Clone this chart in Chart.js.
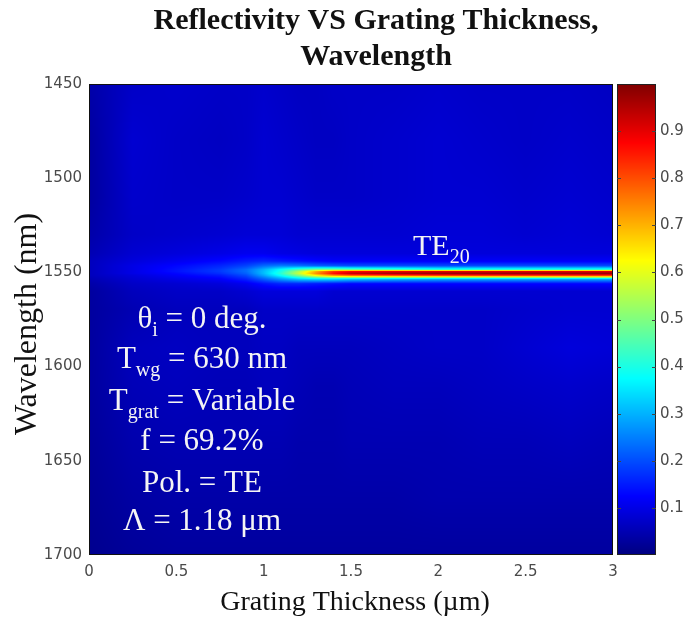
<!DOCTYPE html>
<html>
<head>
<meta charset="utf-8">
<script src="https://cdn.jsdelivr.net/npm/chart.js@4/dist/chart.umd.min.js"></script>
<style>
html,body{margin:0;padding:0;background:#fff;}
canvas{display:block;}
</style>
</head>
<body>
<canvas id="c" width="686" height="623"></canvas>
<script>
// ---- data ----
const thickness = [0, 0.25, 0.5, 0.75, 0.9, 1.0, 1.1, 1.2, 1.3, 1.4, 1.5, 1.75, 2.0, 2.25, 2.5, 2.75, 3.0]; // µm
const wavelength = [1450, 1480, 1510, 1530, 1540, 1544, 1546.5, 1548.5, 1549.5, 1550.5, 1551.5, 1553.5, 1556, 1560, 1570, 1590, 1610, 1640, 1670, 1700]; // nm
// reflectivity[row = wavelength][col = thickness]
const reflectivity = [
  [0.04,0.07,0.075,0.07,0.07,0.075,0.07,0.065,0.065,0.07,0.07,0.07,0.075,0.07,0.07,0.07,0.065],
  [0.03,0.08,0.07,0.065,0.07,0.08,0.075,0.07,0.065,0.065,0.07,0.075,0.08,0.075,0.07,0.075,0.07],
  [0.03,0.075,0.07,0.07,0.075,0.08,0.08,0.075,0.07,0.07,0.07,0.075,0.08,0.08,0.075,0.08,0.075],
  [0.04,0.07,0.075,0.08,0.085,0.085,0.085,0.08,0.08,0.08,0.08,0.08,0.085,0.085,0.08,0.085,0.08],
  [0.05,0.08,0.09,0.10,0.11,0.11,0.10,0.095,0.09,0.09,0.09,0.09,0.09,0.09,0.09,0.09,0.09],
  [0.06,0.09,0.11,0.13,0.15,0.16,0.15,0.14,0.13,0.12,0.12,0.12,0.12,0.12,0.12,0.12,0.12],
  [0.06,0.10,0.13,0.16,0.19,0.23,0.25,0.24,0.22,0.21,0.20,0.20,0.20,0.20,0.20,0.20,0.20],
  [0.06,0.10,0.14,0.18,0.23,0.30,0.38,0.45,0.50,0.50,0.48,0.45,0.42,0.42,0.42,0.42,0.42],
  [0.06,0.10,0.14,0.18,0.23,0.31,0.40,0.54,0.70,0.82,0.87,0.89,0.90,0.90,0.90,0.90,0.90],
  [0.06,0.10,0.13,0.17,0.22,0.31,0.42,0.57,0.74,0.87,0.94,0.97,0.98,0.98,0.98,0.98,0.98],
  [0.06,0.09,0.12,0.15,0.20,0.29,0.39,0.51,0.65,0.75,0.80,0.83,0.85,0.86,0.86,0.86,0.86],
  [0.05,0.08,0.10,0.12,0.16,0.22,0.28,0.33,0.35,0.35,0.33,0.31,0.30,0.30,0.30,0.30,0.30],
  [0.04,0.07,0.08,0.09,0.11,0.14,0.16,0.16,0.15,0.14,0.13,0.13,0.13,0.13,0.13,0.13,0.13],
  [0.03,0.06,0.07,0.07,0.08,0.09,0.09,0.09,0.09,0.08,0.08,0.08,0.08,0.08,0.08,0.08,0.08],
  [0.03,0.05,0.06,0.06,0.06,0.07,0.07,0.07,0.07,0.07,0.07,0.07,0.07,0.07,0.075,0.08,0.08],
  [0.03,0.06,0.065,0.06,0.06,0.065,0.065,0.06,0.06,0.06,0.06,0.065,0.07,0.07,0.08,0.09,0.085],
  [0.03,0.055,0.06,0.055,0.055,0.06,0.06,0.055,0.05,0.05,0.055,0.06,0.06,0.065,0.07,0.075,0.07],
  [0.025,0.045,0.05,0.05,0.05,0.05,0.05,0.045,0.045,0.045,0.05,0.05,0.05,0.055,0.055,0.06,0.055],
  [0.02,0.035,0.04,0.04,0.04,0.04,0.04,0.04,0.04,0.04,0.04,0.04,0.045,0.045,0.045,0.045,0.045],
  [0.015,0.025,0.03,0.03,0.03,0.03,0.03,0.03,0.03,0.03,0.03,0.03,0.03,0.03,0.03,0.03,0.03]
];
const thicknessTicks = [0, 0.5, 1, 1.5, 2, 2.5, 3];
const wavelengthTicks = [1450, 1500, 1550, 1600, 1650, 1700];
const colorbarTicks = [0.1, 0.2, 0.3, 0.4, 0.5, 0.6, 0.7, 0.8, 0.9];

const titleLines = ['Reflectivity VS Grating Thickness,', 'Wavelength'];
const xTitle = 'Grating Thickness (\u00b5m)';
const yTitle = 'Wavelength (nm)';
const modeLabel = [{t:'TE'},{t:'20',sub:true}];
const paramLines = [
  [{t:'\u03b8'},{t:'i',sub:true},{t:' = 0 deg.'}],
  [{t:'T'},{t:'wg',sub:true},{t:' = 630 nm'}],
  [{t:'T'},{t:'grat',sub:true},{t:' = Variable'}],
  [{t:'f = 69.2%'}],
  [{t:'Pol. = TE'}],
  [{t:'\u039b = 1.18 \u03bcm'}]
];

// ---- helpers ----
function jet(v){
  const c = x => Math.max(0, Math.min(1, x));
  return [c(1.5-Math.abs(4*v-3)), c(1.5-Math.abs(4*v-2)), c(1.5-Math.abs(4*v-1))].map(x=>Math.round(255*x));
}
function locate(arr, v){
  if (v <= arr[0]) return [0, 0];
  const n = arr.length;
  if (v >= arr[n-1]) return [n-2, 1];
  for (let i=0;i<n-1;i++){
    if (v>=arr[i] && v<=arr[i+1]) return [i, (v-arr[i])/(arr[i+1]-arr[i])];
  }
  return [n-2,1];
}
function sample(x, y){
  const [i, fx] = locate(thickness, x);
  const [j, fy] = locate(wavelength, y);
  const a = reflectivity[j][i], b = reflectivity[j][i+1];
  const c = reflectivity[j+1][i], d = reflectivity[j+1][i+1];
  return (a*(1-fx)+b*fx)*(1-fy) + (c*(1-fx)+d*fx)*fy;
}
const SERIF = '"Liberation Serif", "Times New Roman", serif';
function drawRich(ctx, parts, cx, baseline, size, color, align){
  const subSize = Math.round(size*0.66);
  let w = 0;
  parts.forEach(p=>{ ctx.font = (p.sub?subSize:size)+'px '+SERIF; w += ctx.measureText(p.t).width; });
  let x = align==='left' ? cx : cx - w/2;
  ctx.fillStyle = color;
  ctx.textAlign = 'left';
  ctx.textBaseline = 'alphabetic';
  parts.forEach(p=>{
    ctx.font = (p.sub?subSize:size)+'px '+SERIF;
    ctx.fillText(p.t, x, baseline + (p.sub ? size*0.25 : 0));
    x += ctx.measureText(p.t).width;
  });
}

const heatmapPlugin = {
  id: 'heatmap',
  beforeDatasetsDraw(chart){
    const ctx = chart.ctx, a = chart.chartArea;
    const xs = chart.scales.x, ys = chart.scales.y, cs = chart.scales.cb;
    const L = Math.round(a.left), T = Math.round(a.top), R = Math.round(a.right), B = Math.round(a.bottom);
    const W = R-L, H = B-T;
    const img = ctx.createImageData(W, H);
    for (let py=0; py<H; py++){
      const yv = ys.getValueForPixel(T+py+0.5);
      for (let px=0; px<W; px++){
        const xv = xs.getValueForPixel(L+px+0.5);
        const col = jet(sample(xv, yv));
        const k = (py*W+px)*4;
        img.data[k]=col[0]; img.data[k+1]=col[1]; img.data[k+2]=col[2]; img.data[k+3]=255;
      }
    }
    ctx.putImageData(img, L, T);
    ctx.save();
    ctx.strokeStyle = '#111';
    ctx.lineWidth = 1;
    ctx.strokeRect(L+0.5, T+0.5, W-1, H-1);
    // colorbar
    const cl = Math.round(cs.left)+4, cr = cl+39;
    const ct = Math.round(cs.getPixelForValue(1)), cb = Math.round(cs.getPixelForValue(0));
    for (let py=ct; py<cb; py++){
      const c = jet(cs.getValueForPixel(py+0.5));
      ctx.fillStyle = 'rgb('+c.join(',')+')';
      ctx.fillRect(cl, py, cr-cl, 1);
    }
    ctx.strokeStyle = '#222';
    ctx.strokeRect(cl+0.5, ct+0.5, cr-cl-1, cb-ct-1);
    ctx.strokeStyle = '#444';
    colorbarTicks.forEach(v=>{
      const y = Math.round(cs.getPixelForValue(v))+0.5;
      ctx.beginPath();
      ctx.moveTo(cl, y); ctx.lineTo(cl+4, y);
      ctx.moveTo(cr-4, y); ctx.lineTo(cr, y);
      ctx.stroke();
    });
    ctx.restore();
  },
  afterDraw(chart){
    const ctx = chart.ctx;
    ctx.save();
    // title
    ctx.fillStyle = '#111';
    ctx.textAlign = 'center';
    ctx.textBaseline = 'alphabetic';
    ctx.font = 'bold 30px '+SERIF;
    ctx.fillText(titleLines[0], 376, 29);
    ctx.fillText(titleLines[1], 376, 65);
    // x title
    ctx.font = '28px '+SERIF;
    ctx.fillText(xTitle, 355, 610);
    // y title
    ctx.save();
    ctx.translate(36, 324);
    ctx.rotate(-Math.PI/2);
    ctx.font = '32px '+SERIF;
    ctx.fillText(yTitle, 0, 0);
    ctx.restore();
    // mode label
    drawRich(ctx, modeLabel, 413, 255, 30, '#f4f4f4', 'left');
    // parameters
    const bases = [328, 368, 410, 450, 492, 530];
    paramLines.forEach((ln, i)=> drawRich(ctx, ln, 202, bases[i], 31, '#f4f4f4', 'center'));
    ctx.restore();
  }
};

const tickFont = {family: '"DejaVu Sans", Arial, sans-serif', size: 15};
const tickColor = '#4a4a4a';
const plain = v => String(Math.round(v*100)/100);

new Chart(document.getElementById('c'), {
  type: 'scatter',
  data: { datasets: [{ data: [], pointRadius: 0 }] },
  options: {
    responsive: false,
    animation: false,
    devicePixelRatio: 1,
    layout: { padding: { top: 84, left: 0, right: 0, bottom: 0 } },
    plugins: { legend: {display:false}, tooltip: {enabled:false}, title: {display:false} },
    scales: {
      x: {
        type: 'linear', position: 'bottom', min: 0, max: 3,
        grid: { display: false, drawTicks: false }, border: { display: false },
        afterBuildTicks: s => { s.ticks = thicknessTicks.map(v=>({value:v})); },
        afterFit: s => { s.height = 68; },
        ticks: { font: tickFont, color: tickColor, padding: 8, maxRotation: 0, autoSkip: false, callback: plain }
      },
      y: {
        type: 'linear', position: 'left', min: 1450, max: 1700, reverse: true,
        grid: { display: false, drawTicks: false }, border: { display: false },
        afterBuildTicks: s => { s.ticks = wavelengthTicks.map(v=>({value:v})); },
        afterFit: s => { s.width = 89; },
        ticks: { font: tickFont, color: tickColor, padding: 7, autoSkip: false, callback: plain }
      },
      cb: {
        type: 'linear', position: 'right', min: 0, max: 1,
        grid: { display: false, drawTicks: false }, border: { display: false },
        afterBuildTicks: s => { s.ticks = colorbarTicks.map(v=>({value:v})); },
        afterFit: s => { s.width = 73; },
        ticks: { font: tickFont, color: tickColor, padding: 47, autoSkip: false, callback: plain }
      }
    }
  },
  plugins: [heatmapPlugin]
});
</script>
</body>
</html>
